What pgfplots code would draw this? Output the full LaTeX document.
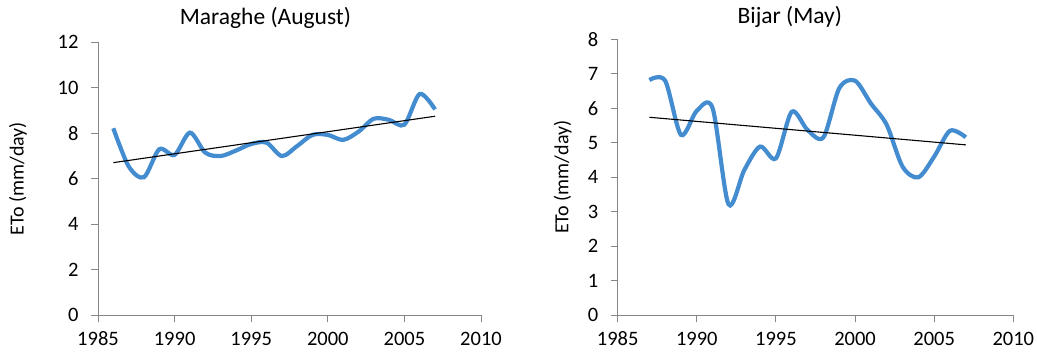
\documentclass[border=0pt]{standalone}
\usepackage{fontspec}
\setmainfont{Carlito}
\usepackage{pgfplots}
\pgfplotsset{compat=1.18}
\definecolor{lineblue}{RGB}{68,140,208}
\definecolor{axgray}{RGB}{134,134,134}
\pgfplotsset{
  mystyle/.style={
    scale only axis,
    axis lines=left,
    axis line style={-, draw=axgray, line width=1bp},
    tick style={draw=axgray, line width=1bp},
    tick align=outside,
    major tick length=7bp,
    xmin=1985, xmax=2010,
    xtick={1985,1990,1995,2000,2005,2010},
    ymin=0,
    /pgf/number format/assume math mode=true,
    /pgf/number format/1000 sep={},
    ticklabel style={font=\fontsize{20.5bp}{24bp}\selectfont},
    label style={font=\fontsize{20bp}{24bp}\selectfont},
    title style={font=\fontsize{23.5bp}{28bp}\selectfont, anchor=base},
    xticklabel style={yshift=-6bp},
    yticklabel style={xshift=-9bp},
    clip=false,
  }
}
\begin{document}
\begin{tikzpicture}
\useasboundingbox (0,0) rectangle (1037bp,352bp);
\begin{axis}[mystyle,
  at={(98bp,36.7bp)}, anchor=south west,
  width=383bp, height=273bp,
  ymax=12, ytick={0,2,4,6,8,10,12},
  title={Maraghe (August)},
  title style={at={(axis description cs:0.437,1.045)}},
  ylabel={ETo (mm/day)},
  ylabel style={at={(axis description cs:-0.209,0.5)}, anchor=center, rotate=0},
]
\addplot[lineblue, line width=4.2bp, smooth, tension=0.5] coordinates {
(1986,8.22) (1987,6.55) (1988,6.07) (1989,7.30) (1990,7.05) (1991,8.03)
(1992,7.15) (1993,7.00) (1994,7.24) (1995,7.53) (1996,7.59) (1997,7.00)
(1998,7.44) (1999,7.93) (2000,7.93) (2001,7.71) (2002,8.07) (2003,8.64)
(2004,8.59) (2005,8.38) (2006,9.73) (2007,9.05)
};
\addplot[black, line width=1.1bp] coordinates {(1986,6.71) (2007,8.75)};
\end{axis}
\begin{axis}[mystyle,
  at={(617.7bp,36.7bp)}, anchor=south west,
  width=395.6bp, height=276bp,
  ymax=8, ytick={0,1,2,3,4,5,6,7,8},
  title={Bijar (May)},
  title style={at={(axis description cs:0.435,1.037)}},
  ylabel={ETo (mm/day)},
  ylabel style={at={(axis description cs:-0.139,0.5)}, anchor=center, rotate=0},
]
\addplot[lineblue, line width=4.2bp, smooth, tension=0.5] coordinates {
(1987,6.82) (1988,6.80) (1989,5.23) (1990,5.93) (1991,6.00) (1992,3.22)
(1993,4.21) (1994,4.89) (1995,4.55) (1996,5.90) (1997,5.37) (1998,5.16)
(1999,6.58) (2000,6.80) (2001,6.14) (2002,5.52) (2003,4.31) (2004,4.00)
(2005,4.60) (2006,5.35) (2007,5.16)
};
\addplot[black, line width=1.1bp] coordinates {(1987,5.74) (2007,4.94)};
\end{axis}
\end{tikzpicture}
\end{document}
